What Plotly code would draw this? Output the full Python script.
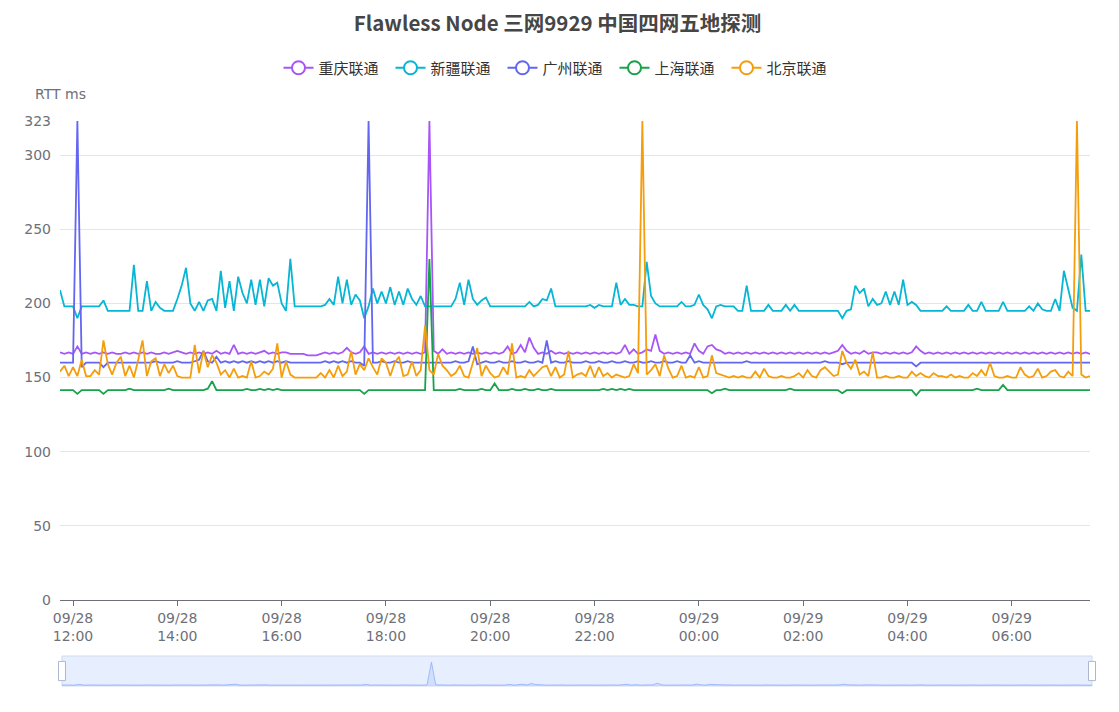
import plotly.graph_objects as go
import pandas as pd

# ---------------- data ----------------
start_time = "2023-09-28 11:45"
n_points = 238
times = pd.date_range(start_time, periods=n_points, freq="5min")

series_names = ["重庆联通", "新疆联通", "广州联通", "上海联通", "北京联通"]
colors = ["#A855F7", "#06B6D4", "#6366F1", "#16A34A", "#F59E0B"]

chongqing = [
    167, 166, 167, 166, 171, 166, 167, 166, 167, 166, 167, 166, 167, 166, 166, 167, 166, 167, 166, 167, 166, 167, 166, 166, 167, 166, 167, 168, 167, 166,
    167, 166, 167, 166, 167, 166, 168, 166, 167, 166, 172, 166, 167, 166, 167, 166, 167, 168, 166, 167, 166, 167, 167, 166, 166, 166, 166, 165, 165, 165,
    166, 167, 166, 167, 166, 167, 170, 167, 166, 167, 171, 166, 167, 166, 167, 166, 167, 166, 167, 166, 167, 166, 167, 166, 167, 323, 168, 166, 169, 166,
    167, 166, 167, 166, 167, 166, 167, 166, 167, 166, 167, 166, 167, 171, 166, 167, 172, 167, 177, 170, 166, 167, 166, 168, 166, 167, 166, 167, 166, 167,
    166, 167, 166, 167, 166, 167, 166, 167, 166, 167, 172, 166, 169, 166, 167, 169, 168, 179, 168, 166, 167, 166, 167, 166, 167, 166, 173, 168, 166, 171,
    172, 169, 168, 166, 167, 166, 167, 166, 167, 166, 167, 166, 167, 166, 167, 166, 167, 166, 167, 166, 167, 166, 167, 166, 167, 166, 167, 166, 167, 168,
    172, 168, 166, 167, 166, 168, 166, 167, 167, 166, 167, 166, 167, 166, 167, 166, 167, 171, 168, 166, 167, 166, 167, 166, 167, 166, 167, 166, 167, 166,
    167, 166, 167, 166, 167, 166, 167, 166, 167, 166, 167, 166, 167, 166, 167, 166, 167, 166, 167, 166, 167, 166, 167, 166, 167, 166, 167, 166,
]

xinjiang = [
    209, 198, 198, 198, 190, 198, 198, 198, 198, 198, 202, 195, 195, 195, 195, 195, 195, 226, 195, 195, 215, 195, 201, 197, 195, 195, 195, 203, 212, 224,
    200, 195, 201, 195, 202, 203, 195, 222, 197, 215, 195, 218, 207, 200, 216, 199, 216, 198, 217, 212, 214, 200, 195, 230, 198, 198, 198, 198, 198, 198,
    198, 199, 203, 199, 218, 200, 216, 199, 206, 202, 190, 198, 210, 200, 208, 200, 211, 199, 208, 199, 210, 203, 199, 205, 198, 198, 198, 198, 198, 198,
    198, 203, 214, 199, 216, 203, 199, 202, 204, 198, 198, 198, 198, 198, 198, 198, 198, 198, 201, 198, 199, 203, 202, 210, 198, 198, 198, 198, 198, 198,
    198, 198, 199, 197, 199, 198, 198, 198, 214, 199, 203, 199, 199, 198, 198, 228, 205, 200, 198, 198, 198, 198, 198, 201, 198, 198, 199, 206, 199, 196,
    190, 198, 199, 198, 198, 198, 195, 195, 212, 195, 195, 195, 195, 199, 195, 195, 195, 199, 195, 199, 195, 195, 195, 195, 195, 195, 195, 195, 195, 195,
    190, 195, 196, 212, 207, 210, 198, 203, 199, 200, 208, 199, 208, 199, 216, 199, 201, 199, 195, 195, 195, 195, 195, 195, 198, 195, 195, 195, 195, 199,
    195, 195, 201, 195, 195, 195, 195, 201, 195, 195, 195, 195, 195, 198, 195, 200, 196, 195, 195, 203, 195, 222, 209, 197, 195, 233, 195, 195,
]

guangzhou = [
    160, 160, 160, 160, 323, 157, 160, 160, 160, 160, 157, 160, 160, 160, 160, 160, 160, 160, 160, 160, 160, 160, 161, 160, 160, 160, 160, 161, 160, 160,
    160, 161, 162, 168, 161, 160, 164, 160, 161, 160, 161, 160, 161, 160, 161, 160, 161, 160, 161, 160, 161, 160, 161, 160, 160, 160, 160, 159.5, 159.5, 159.5,
    160, 161, 160, 161, 160, 161, 160, 161, 160, 160, 158, 323, 160, 160, 161, 160, 160, 161, 160, 160, 161, 160, 160, 160, 160, 160, 160, 160, 160, 160,
    160, 161, 160, 160, 161, 171, 159, 160, 161, 160, 160, 161, 160, 160, 161, 160, 160, 161, 160, 160, 161, 160, 175, 160, 161, 160, 160, 161, 160, 160,
    160, 161, 160, 160, 161, 160, 160, 161, 160, 160, 161, 160, 160, 161, 160, 160, 161, 160, 160, 161, 160, 160, 161, 160, 160, 165, 160, 161, 160, 160,
    160, 160, 160, 160, 160, 160, 160, 160, 161, 160, 160, 160, 160, 160, 160, 160, 160, 160, 160, 160, 160, 160, 160, 160, 160, 160, 161, 160, 160, 160,
    159, 160, 160, 160, 160, 160, 160, 160, 160, 160, 160, 160, 160, 160, 160, 160, 160, 157.5, 160, 160, 160, 160, 160, 160, 160, 160, 160, 160, 160, 160,
    160, 160, 160, 160, 160, 160, 160, 160, 160, 160, 160, 160, 160, 160, 160, 160, 160, 160, 160, 160, 160, 160, 160, 160, 160, 160, 160, 160,
]

shanghai = [
    141.5, 141.5, 141.5, 141.5, 139, 141.5, 141.5, 141.5, 141.5, 141.5, 139, 141.5, 141.5, 141.5, 141.5, 141.5, 142.5, 141.5, 141.5, 141.5, 141.5, 141.5, 141.5, 141.5, 141.5, 142.5, 141.5, 141.5, 141.5, 141.5,
    141.5, 141.5, 141.5, 141.5, 142.5, 147.5, 141.5, 141.5, 141.5, 141.5, 141.5, 141.5, 141.5, 142.3, 141.5, 141.5, 142.3, 141.5, 142.3, 141.5, 142.3, 141.5, 141.5, 141.5, 141.5, 141.5, 141.5, 141.5, 141.5, 141.5,
    141.5, 141.5, 141.5, 141.5, 141.5, 141.5, 141.5, 141.5, 141.5, 141.5, 139, 141.5, 141.5, 141.5, 141.5, 141.5, 141.5, 141.5, 141.5, 141.5, 141.5, 141.5, 141.5, 141.5, 141.5, 230, 141.5, 141.5, 141.5, 141.5,
    141.5, 141.5, 142.3, 141.5, 141.5, 141.5, 141.5, 142.3, 141.5, 141.5, 146, 141.5, 141.5, 141.5, 142.3, 141.5, 141.5, 142.3, 141.5, 141.5, 142.3, 141.5, 141.5, 142.3, 141.5, 141.5, 141.5, 141.5, 141.5, 141.5,
    141.5, 141.5, 141.5, 141.5, 141.5, 142.3, 141.5, 142.3, 141.5, 142.3, 141.5, 142.3, 141.5, 141.5, 141.5, 141.5, 141.5, 141.5, 141.5, 141.5, 141.5, 141.5, 141.5, 141.5, 141.5, 141.5, 141.5, 141.5, 141.5, 141.5,
    139.5, 141.5, 141.5, 142.5, 141.5, 141.5, 141.5, 141.5, 141.5, 141.5, 141.5, 141.5, 141.5, 141.5, 141.5, 141.5, 141.5, 141.5, 142.5, 141.5, 141.5, 141.5, 141.5, 141.5, 141.5, 141.5, 141.5, 141.5, 141.5, 141.5,
    139.5, 141.5, 141.5, 141.5, 141.5, 141.5, 141.5, 141.5, 141.5, 141.5, 141.5, 141.5, 141.5, 141.5, 141.5, 141.5, 141.5, 138, 141.5, 141.5, 141.5, 141.5, 141.5, 141.5, 141.5, 141.5, 141.5, 141.5, 141.5, 141.5,
    141.5, 142.5, 141.5, 141.5, 141.5, 141.5, 141.5, 145, 141.5, 141.5, 141.5, 141.5, 141.5, 141.5, 141.5, 141.5, 141.5, 141.5, 141.5, 141.5, 141.5, 141.5, 141.5, 141.5, 141.5, 141.5, 141.5, 141.5,
]

beijing = [
    154, 158, 151, 157, 151, 162, 151, 151, 155, 152, 175, 159, 152, 160, 164, 151, 158, 150, 162, 175, 151, 161, 163, 151, 159, 153, 158, 151, 150, 150,
    150, 172, 153, 168, 157, 165, 160, 152, 155, 150, 156, 150, 151, 150, 161, 150, 151, 154, 152, 156, 173, 150, 161, 152, 150, 150, 150, 150, 150, 150,
    153, 150, 155, 150, 158, 151, 154, 168, 152, 159, 155, 163, 157, 152, 163, 160, 151, 160, 164, 151, 152, 161, 151, 155, 185, 155, 152, 166, 158, 155,
    151, 153, 158, 151, 150, 160, 170, 151, 158, 153, 150, 151, 157, 152, 173, 150, 151, 150, 155, 151, 154, 157, 158, 151, 157, 150, 152, 168, 150, 152,
    153, 151, 158, 150, 157, 151, 153, 150, 152, 151, 150, 151, 159, 153, 323, 152, 155, 159, 151, 165, 156, 150, 151, 158, 150, 151, 150, 157, 150, 151,
    165, 153, 152, 151, 150, 151, 150, 151, 150, 150, 154, 150, 156, 151, 150, 150, 151, 150, 150, 151, 153, 150, 155, 151, 150, 155, 157, 154, 151, 152,
    168, 160, 156, 162, 152, 154, 151, 167, 150, 150, 151, 150, 150, 151, 150, 150, 154, 151, 153, 151, 150, 153, 151, 151, 150, 152, 150, 151, 150, 150,
    153, 151, 155, 151, 160, 151, 150, 150, 151, 150, 150, 157, 152, 150, 151, 156, 150, 151, 154, 155, 151, 150, 154, 151, 323, 152, 150, 151,
]

y_ticks = [0, 50, 100, 150, 200, 250, 300, 323]
tick_times = ["2023-09-28 12:00", "2023-09-28 14:00", "2023-09-28 16:00", "2023-09-28 18:00",
              "2023-09-28 20:00", "2023-09-28 22:00", "2023-09-29 00:00", "2023-09-29 02:00",
              "2023-09-29 04:00", "2023-09-29 06:00"]
tick_labels = ["09/28<br>12:00", "09/28<br>14:00", "09/28<br>16:00", "09/28<br>18:00",
               "09/28<br>20:00", "09/28<br>22:00", "09/29<br>00:00", "09/29<br>02:00",
               "09/29<br>04:00", "09/29<br>06:00"]

all_series = [chongqing, xinjiang, guangzhou, shanghai, beijing]

# ---------------- figure ----------------
FONT = "Noto Sans CJK SC, Noto Sans, sans-serif"
TICKFONT = "DejaVu Sans, sans-serif"
W, H = 1119, 712
OFF = 8  # page body margin offset
ml, mr, mt, mb = 60 - OFF, 1119 - (1092 - OFF), 121 - OFF, 712 - (686 - OFF)
plot_h = H - mt - mb
plot_w = W - ml - mr
main_bottom = (686 - 600) / plot_h
slider_top = 30 / plot_h

fig = go.Figure()

for name, vals, col in zip(series_names, all_series, colors):
    fig.add_trace(go.Scatter(
        x=times[:len(vals)], y=vals, mode="lines", name=name,
        line=dict(color=col, width=1.8), showlegend=False,
        xaxis="x", yaxis="y", hoverinfo="skip"))

for name, col in zip(series_names, colors):
    fig.add_trace(go.Scatter(
        x=[None], y=[None], mode="lines+markers", name=name,
        line=dict(color=col, width=2),
        marker=dict(symbol="circle", size=13, color="white", line=dict(color=col, width=2)),
        xaxis="x", yaxis="y"))

# slider mini chart
fig.add_trace(go.Scatter(
    x=times[:len(chongqing)], y=chongqing, mode="lines", showlegend=False,
    line=dict(color="#8fb0f7", width=0.8), fill="tozeroy", fillcolor="rgba(143,176,247,0.25)",
    xaxis="x2", yaxis="y2", hoverinfo="skip"))

t0 = times[0]
t1 = times[n_points - 1]

fig.update_layout(
    width=W, height=H,
    margin=dict(l=ml, r=mr, t=mt, b=mb, autoexpand=False),
    paper_bgcolor="white", plot_bgcolor="white",
    font=dict(family=FONT, color="#6E7079", size=12),
    title=dict(text="<b>Flawless Node 三网9929 中国四网五地探测</b>", x=(557.5 - OFF) / W, xanchor="center",
               y=1 - (24 - OFF) / H, yanchor="middle", yref="container",
               font=dict(size=20.5, color="#464646", family=FONT)),
    legend=dict(orientation="h", x=(558.5 - OFF) / W, xanchor="center", xref="container",
                y=1 - (68 - OFF) / H, yanchor="middle", yref="container",
                font=dict(size=15, color="#333333", family=FONT),
                entrywidth=67, entrywidthmode="pixels", itemclick=False),
    xaxis=dict(domain=[0, 1030 / plot_w], range=[t0, t1], type="date",
               tickvals=tick_times, ticktext=tick_labels, automargin=False,
               showgrid=False, zeroline=False,
               showline=True, linecolor="#6E7079", linewidth=1,
               ticks="outside", ticklen=5, tickcolor="#6E7079",
               tickfont=dict(size=14, color="#6E7079", family=TICKFONT), anchor="y"),
    yaxis=dict(domain=[main_bottom, 1], range=[0, 323], tickvals=y_ticks, automargin=False,
               showgrid=True, gridcolor="#E0E6F1", gridwidth=1, zeroline=False,
               showline=False, ticks="", ticklabelstandoff=8,
               tickfont=dict(size=14, color="#6E7079", family=TICKFONT), anchor="x"),
    xaxis2=dict(domain=[2 / plot_w, 1], range=[t0, t1], type="date", visible=False, anchor="y2"),
    yaxis2=dict(domain=[0, slider_top], range=[160, 365], visible=False, anchor="x2"),
    showlegend=True,
)

fig.add_annotation(text="RTT ms", x=0, y=1 + (121 - 94) / plot_h, xref="paper", yref="paper",
                   xanchor="center", yanchor="middle", showarrow=False,
                   font=dict(size=14, color="#6E7079", family=TICKFONT))

# slider frame
fig.add_shape(type="rect", xref="paper", yref="paper", x0=2 / plot_w, x1=1, y0=0, y1=slider_top,
              fillcolor="rgba(135,175,255,0.2)", line=dict(color="#d2dbee", width=1), layer="below")
# slider handles
hx = [2 / plot_w, 1]
for x in hx:
    fig.add_shape(type="rect", xref="paper", yref="paper",
                  x0=x - 3.5 / plot_w, x1=x + 3.5 / plot_w,
                  y0=slider_top * 0.18, y1=slider_top * 0.82,
                  fillcolor="white", line=dict(color="#ACB8D1", width=1))

fig.write_html("out.html")
